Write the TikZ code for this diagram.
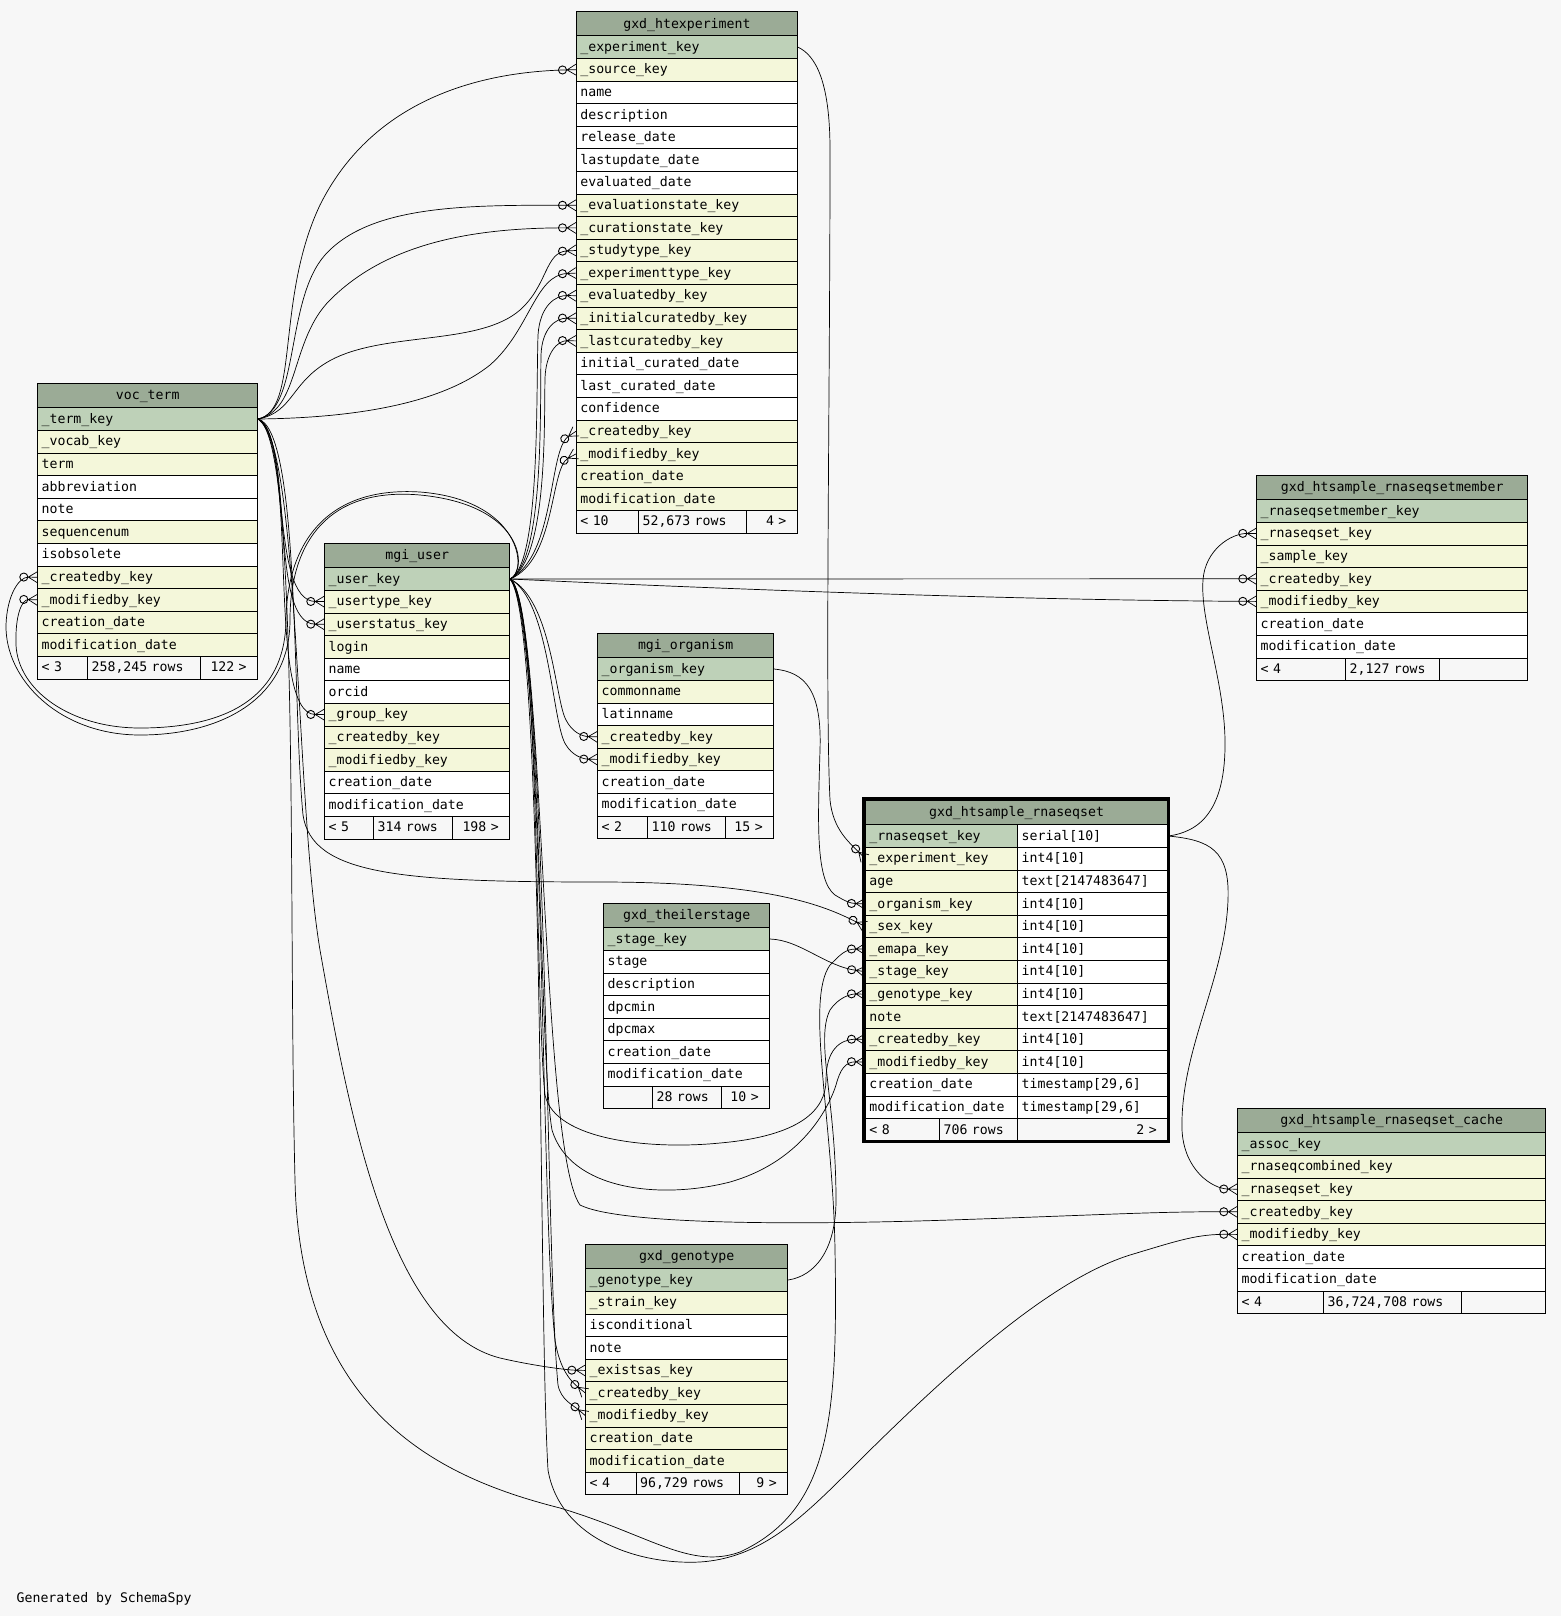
\documentclass[tikz,border=0pt]{standalone}
\usepackage{fontspec}
\setmonofont{DejaVu Sans Mono}
\usetikzlibrary{arrows.meta}

\definecolor{bgcol}{HTML}{F7F7F7}
\definecolor{hdcol}{HTML}{9BAB96}
\definecolor{pkcol}{HTML}{BED1B8}
\definecolor{ixcol}{HTML}{F4F7DA}

% Crow's foot for the many side of a key.
\pgfdeclarearrow{
  name = Crow,
  parameters = {\the\pgfarrowlength,\the\pgfarrowwidth},
  setup code = {
    \pgfarrowssettipend{0pt}
    \pgfarrowssetbackend{-\pgfarrowlength}
    \pgfarrowssetlineend{-\pgfarrowlength}
    \pgfarrowshullpoint{0pt}{.5\pgfarrowwidth}
    \pgfarrowshullpoint{0pt}{-.5\pgfarrowwidth}
    \pgfarrowshullpoint{-\pgfarrowlength}{0pt}
    \pgfarrowssavethe\pgfarrowlength
    \pgfarrowssavethe\pgfarrowwidth
  },
  drawing code = {
    \pgfpathmoveto{\pgfqpoint{0pt}{.5\pgfarrowwidth}}
    \pgfpathlineto{\pgfqpoint{-\pgfarrowlength}{0pt}}
    \pgfpathlineto{\pgfqpoint{0pt}{-.5\pgfarrowwidth}}
    \pgfpathmoveto{\pgfqpoint{-\pgfarrowlength}{0pt}}
    \pgfpathlineto{\pgfqpoint{0pt}{0pt}}
    \pgfusepathqstroke
  }
}

\begin{document}
\begin{tikzpicture}[x=1pt, y=-1pt, line width=0.8pt,
    font=\ttfamily\fontsize{13.2}{15}\selectfont,
    cell/.style={draw, anchor=north west, inner xsep=4pt, inner ysep=0pt,
        minimum height=22.6pt, text height=11pt, text depth=2.5pt, align=left},
    hcell/.style={cell, fill=hdcol, minimum height=24pt, align=center},
    fcell/.style={cell, fill=bgcol},
    rcell/.style={fcell, align=right, execute at end node={\hspace*{7pt}}},
    fk/.style={-{Circle[open, length=9pt, width=9pt, line width=0.9pt]
        Crow[length=9pt, width=11pt, line width=1.2pt]}, line width=0.7pt}]

        % Background of the whole sheet.
        \fill[bgcol] (0,0) rectangle (1561,1616);

        % The voc_term table.
        \node[hcell, text width=212pt] (vt) at (37.3,383.3) {voc\_term};
        \foreach \txt/\col [count=\i] in {\_term\_key/pkcol, \_vocab\_key/ixcol,
            term/ixcol, abbreviation/white, note/white, sequencenum/ixcol,
            isobsolete/white, \_createdby\_key/ixcol, \_modifiedby\_key/ixcol,
            creation\_date/ixcol, modification\_date/ixcol}
            \node[cell, fill=\col, text width=212pt] (vt-\i) at (37.3,{407.3+22.6*(\i-1)}) {\txt};
        \node[fcell, text width=42pt] (vt-f1) at (37.3,656) {< 3};
        \node[fcell, text width=105pt] (vt-f2) at (87.3,656) {258,245 rows};
        \node[rcell, text width=49pt] (vt-f3) at (200.3,656) {122 >};

        % The gxd_htexperiment table.
        \node[hcell, text width=213pt] (ex) at (576,11.4) {gxd\_htexperiment};
        \foreach \txt/\col [count=\i] in {\_experiment\_key/pkcol, \_source\_key/ixcol,
            name/white, description/white, release\_date/white, lastupdate\_date/white,
            evaluated\_date/white, \_evaluationstate\_key/ixcol, \_curationstate\_key/ixcol,
            \_studytype\_key/ixcol, \_experimenttype\_key/ixcol, \_evaluatedby\_key/ixcol,
            \_initialcuratedby\_key/ixcol, \_lastcuratedby\_key/ixcol,
            initial\_curated\_date/white, last\_curated\_date/white, confidence/white,
            \_createdby\_key/ixcol, \_modifiedby\_key/ixcol, creation\_date/ixcol,
            modification\_date/ixcol}
            \node[cell, fill=\col, text width=213pt] (ex-\i) at (576,{35.4+22.6*(\i-1)}) {\txt};
        \node[fcell, text width=54.2pt] (ex-f1) at (576,510) {< 10};
        \node[fcell, text width=99.4pt] (ex-f2) at (638.2,510) {52,673 rows};
        \node[rcell, text width=43.4pt] (ex-f3) at (745.6,510) {4 >};

        % The mgi_user table.
        \node[hcell, text width=177pt] (mu) at (324.3,543.3) {mgi\_user};
        \foreach \txt/\col [count=\i] in {\_user\_key/pkcol, \_usertype\_key/ixcol,
            \_userstatus\_key/ixcol, login/ixcol, name/white, orcid/white,
            \_group\_key/ixcol, \_createdby\_key/ixcol, \_modifiedby\_key/ixcol,
            creation\_date/white, modification\_date/white}
            \node[cell, fill=\col, text width=177pt] (mu-\i) at (324.3,{567.3+22.6*(\i-1)}) {\txt};
        \node[fcell, text width=41pt] (mu-f1) at (324.3,816) {< 5};
        \node[fcell, text width=71pt] (mu-f2) at (373.3,816) {314 rows};
        \node[rcell, text width=49pt] (mu-f3) at (452.3,816) {198 >};

        % The mgi_organism table.
        \node[hcell, text width=168pt] (mo) at (597.3,633.3) {mgi\_organism};
        \foreach \txt/\col [count=\i] in {\_organism\_key/pkcol, commonname/ixcol,
            latinname/white, \_createdby\_key/ixcol, \_modifiedby\_key/ixcol,
            creation\_date/white, modification\_date/white}
            \node[cell, fill=\col, text width=168pt] (mo-\i) at (597.3,{657.3+22.6*(\i-1)}) {\txt};
        \node[fcell, text width=42pt] (mo-f1) at (597.3,815.5) {< 2};
        \node[fcell, text width=70pt] (mo-f2) at (647.3,815.5) {110 rows};
        \node[rcell, text width=40pt] (mo-f3) at (725.3,815.5) {15 >};

        % The gxd_theilerstage table.
        \node[hcell, text width=158pt] (ts) at (603.3,903.3) {gxd\_theilerstage};
        \foreach \txt/\col [count=\i] in {\_stage\_key/pkcol, stage/white,
            description/white, dpcmin/white, dpcmax/white, creation\_date/white,
            modification\_date/white}
            \node[cell, fill=\col, text width=158pt] (ts-\i) at (603.3,{927.3+22.6*(\i-1)}) {\txt};
        \node[fcell, text width=41pt] (ts-f1) at (603.3,1085.5) {};
        \node[fcell, text width=61pt] (ts-f2) at (652.3,1085.5) {28 rows};
        \node[rcell, text width=40pt] (ts-f3) at (721.3,1085.5) {10 >};

        % The gxd_genotype table.
        \node[hcell, text width=194pt] (gt) at (585.3,1244.3) {gxd\_genotype};
        \foreach \txt/\col [count=\i] in {\_genotype\_key/pkcol, \_strain\_key/ixcol,
            isconditional/white, note/white, \_existsas\_key/ixcol, \_createdby\_key/ixcol,
            \_modifiedby\_key/ixcol, creation\_date/ixcol, modification\_date/ixcol}
            \node[cell, fill=\col, text width=194pt] (gt-\i) at (585.3,{1268.3+22.6*(\i-1)}) {\txt};
        \node[fcell, text width=42.4pt] (gt-f1) at (585.3,1471.7) {< 4};
        \node[fcell, text width=95.6pt] (gt-f2) at (635.7,1471.7) {96,729 rows};
        \node[rcell, text width=40pt] (gt-f3) at (739.3,1471.7) {9 >};

        % The gxd_htsample_rnaseqsetmember table.
        \node[hcell, text width=263pt] (sm) at (1256.3,475.3) {gxd\_htsample\_rnaseqsetmember};
        \foreach \txt/\col [count=\i] in {\_rnaseqsetmember\_key/pkcol, \_rnaseqset\_key/ixcol,
            \_sample\_key/ixcol, \_createdby\_key/ixcol, \_modifiedby\_key/ixcol,
            creation\_date/white, modification\_date/white}
            \node[cell, fill=\col, text width=263pt] (sm-\i) at (1256.3,{499.3+22.6*(\i-1)}) {\txt};
        \node[fcell, text width=81pt] (sm-f1) at (1256.3,657.5) {< 4};
        \node[fcell, text width=86pt] (sm-f2) at (1345.3,657.5) {2,127 rows};
        \node[fcell, text width=80pt] (sm-f3) at (1439.3,657.5) {};

        % The gxd_htsample_rnaseqset_cache table.
        \node[hcell, text width=300pt] (sc) at (1237.3,1108.3) {gxd\_htsample\_rnaseqset\_cache};
        \foreach \txt/\col [count=\i] in {\_assoc\_key/pkcol, \_rnaseqcombined\_key/ixcol,
            \_rnaseqset\_key/ixcol, \_createdby\_key/ixcol, \_modifiedby\_key/ixcol,
            creation\_date/white, modification\_date/white}
            \node[cell, fill=\col, text width=300pt] (sc-\i) at (1237.3,{1132.3+22.6*(\i-1)}) {\txt};
        \node[fcell, text width=78pt] (sc-f1) at (1237.3,1290.5) {< 4};
        \node[fcell, text width=130pt] (sc-f2) at (1323.3,1290.5) {36,724,708 rows};
        \node[fcell, text width=76pt] (sc-f3) at (1461.3,1290.5) {};

        % The gxd_htsample_rnaseqset table, with its column types.
        \node[hcell, text width=294.3pt, minimum height=24.3pt] (rs) at (865,800) {gxd\_htsample\_rnaseqset};
        \foreach \txt/\typ/\col [count=\i] in {\_rnaseqset\_key/serial[10]/pkcol,
            \_experiment\_key/int4[10]/ixcol, age/text[2147483647]/ixcol,
            \_organism\_key/int4[10]/ixcol, \_sex\_key/int4[10]/ixcol,
            \_emapa\_key/int4[10]/ixcol, \_stage\_key/int4[10]/ixcol,
            \_genotype\_key/int4[10]/ixcol, note/text[2147483647]/ixcol,
            \_createdby\_key/int4[10]/ixcol, \_modifiedby\_key/int4[10]/ixcol,
            creation\_date/{timestamp[29,6]}/white, modification\_date/{timestamp[29,6]}/white}
        {
            \node[cell, fill=\col, text width=144.3pt] (rs-\i) at (865,{824.3+22.6*(\i-1)}) {\txt};
            \node[cell, fill=white, text width=142pt] (rt-\i) at (1017.3,{824.3+22.6*(\i-1)}) {\typ};
        }
        \node[fcell, text width=66.3pt] (rs-f1) at (865,1118.1) {< 8};
        \node[fcell, text width=70pt] (rs-f2) at (939.3,1118.1) {706 rows};
        \node[rcell, text width=142pt] (rs-f3) at (1017.3,1118.1) {2 >};
        \draw[line width=3pt] (863.5,798.5) rectangle (1168.5,1141.5);

        % Keys that point at voc_term.
        \draw[fk] (vt-1.east) .. controls (300,410) and (275,300) .. (320,205)
            .. controls (370,105) and (470,72) .. (ex-2.west);
        \draw[fk] (vt-1.east) .. controls (300,410) and (285,300) .. (325,255)
            .. controls (370,205) and (466,205) .. (ex-8.west);
        \draw[fk] (vt-1.east) .. controls (300,410) and (290,340) .. (330,300)
            .. controls (380,250) and (456,227.5) .. (ex-9.west);
        \draw[fk] (vt-1.east) .. controls (295,412) and (290,380) .. (335,358)
            .. controls (390,332) and (480,345) .. (520,310)
            .. controls (548,285) and (545,252) .. (ex-10.west);
        \draw[fk] (vt-1.east) .. controls (350,418) and (440,405) .. (490,365)
            .. controls (530,330) and (535,275) .. (ex-11.west);
        \draw[fk] (vt-1.east) .. controls (290,430) and (270,601) .. (mu-2.west);
        \draw[fk] (vt-1.east) .. controls (295,440) and (268,624) .. (mu-3.west);
        \draw[fk] (vt-1.east) .. controls (300,450) and (265,714) .. (mu-7.west);
        \draw[fk] (vt-1.east) .. controls (300,430) and (292,700) .. (303,815)
            .. controls (312,875) and (400,882) .. (600,882)
            .. controls (770,882) and (825,906) .. (rs-5.west);
        \draw[fk] (vt-1.east) .. controls (300,440) and (295,800) .. (320,950)
            .. controls (350,1120) and (390,1330) .. (500,1358)
            .. controls (530,1365) and (565,1370) .. (gt-5.west);
        \draw[fk] (vt-1.east) .. controls (300,440) and (288,900) .. (295,1180)
            .. controls (300,1420) and (450,1480) .. (560,1508)
            .. controls (650,1535) and (690,1570) .. (740,1552)
            .. controls (830,1510) and (838,1420) .. (835,1250)
            .. controls (833,1120) and (805,1000) .. (830,965)
            .. controls (840,955) and (845,949) .. (rs-6.west);

        % Keys that point at mgi_user.
        \draw[fk] (mu-1.east) .. controls (528,570) and (525,505) .. (420,495)
            .. controls (330,487) and (290,540) .. (290,620)
            .. controls (290,700) and (220,735) .. (140,735)
            .. controls (60,735) and (5,680) .. (6,625)
            .. controls (7,595) and (19,577) .. (vt-8.west);
        \draw[fk] (mu-1.east) .. controls (528,572) and (522,500) .. (420,492)
            .. controls (325,486) and (287,545) .. (286,620)
            .. controls (285,705) and (215,728) .. (140,728)
            .. controls (70,728) and (18,690) .. (16,645)
            .. controls (15,615) and (22,599.4) .. (vt-9.west);
        \draw[fk] (mu-1.east) .. controls (540,565) and (536,400) .. (538,335)
            .. controls (540,305) and (556,295.3) .. (ex-12.west);
        \draw[fk] (mu-1.east) .. controls (544,562) and (540,410) .. (541,355)
            .. controls (542,328) and (556,318) .. (ex-13.west);
        \draw[fk] (mu-1.east) .. controls (548,560) and (544,420) .. (545,378)
            .. controls (546,352) and (558,340.5) .. (ex-14.west);
        \draw[fk] (mu-1.east) .. controls (556,555) and (548,450) .. (ex-18.west);
        \draw[fk] (mu-1.east) .. controls (556,560) and (550,468) .. (ex-19.west);
        \draw[fk] (mu-1.east) .. controls (552,600) and (555,700) .. (566,720)
            .. controls (572,732) and (582,736.4) .. (mo-4.west);
        \draw[fk] (mu-1.east) .. controls (550,600) and (552,725) .. (566,745)
            .. controls (572,755) and (582,759) .. (mo-5.west);
        \draw[fk] (mu-1.east) -- (sm-4.west);
        \draw[fk] (mu-1.east) .. controls (700,588) and (1000,600) .. (sm-5.west);
        \draw[fk] (mu-1.east) .. controls (540,600) and (535,1000) .. (545,1095)
            .. controls (555,1140) and (650,1150) .. (720,1143)
            .. controls (800,1136) and (826,1110) .. (826,1080)
            .. controls (826,1050) and (840,1039) .. (rs-10.west);
        \draw[fk] (mu-1.east) .. controls (542,600) and (538,1050) .. (552,1130)
            .. controls (570,1190) and (660,1200) .. (730,1182)
            .. controls (800,1162) and (828,1110) .. (836,1085)
            .. controls (840,1070) and (845,1061.6) .. (rs-11.west);
        \draw[fk] (mu-1.east) .. controls (545,600) and (540,1150) .. (580,1205)
            .. controls (620,1225) and (800,1225) .. (950,1220)
            .. controls (1100,1215) and (1157,1211.4) .. (sc-4.west);
        \draw[fk] (mu-1.east) .. controls (545,620) and (538,1300) .. (548,1470)
            .. controls (560,1540) and (640,1565) .. (700,1562)
            .. controls (760,1558) and (800,1520) .. (850,1470)
            .. controls (950,1370) and (1050,1280) .. (1130,1255)
            .. controls (1180,1240) and (1197,1234) .. (sc-5.west);
        \draw[fk] (mu-1.east) .. controls (545,620) and (540,1200) .. (555,1340)
            .. controls (560,1372) and (573,1383) .. (gt-6.west);
        \draw[fk] (mu-1.east) .. controls (548,620) and (545,1250) .. (558,1385)
            .. controls (561,1400) and (573,1405) .. (gt-7.west);

        % Keys that point at the other tables.
        \draw[fk] (ex-1.east) .. controls (815,55) and (830,80) .. (830,150)
            .. controls (830,400) and (825,700) .. (830,800)
            .. controls (833,830) and (850,843) .. (rs-2.west);
        \draw[fk] (mo-1.east) .. controls (805,672) and (822,690) .. (820,750)
            .. controls (818,820) and (815,880) .. (835,895)
            .. controls (845,901) and (850,903.4) .. (rs-4.west);
        \draw[fk] (ts-1.east) .. controls (800,940) and (825,966) .. (rs-7.west);
        \draw[fk] (gt-1.east) .. controls (815,1276) and (836,1250) .. (836,1200)
            .. controls (836,1100) and (815,1040) .. (830,1010)
            .. controls (838,998) and (850,993.8) .. (rs-8.west);
        \draw[fk] (rt-1.east) .. controls (1200,832) and (1226,810) .. (1225,740)
            .. controls (1224,680) and (1200,620) .. (1203,580)
            .. controls (1205,550) and (1231,533.2) .. (sm-2.west);
        \draw[fk] (rt-1.east) .. controls (1210,840) and (1230,850) .. (1228,900)
            .. controls (1225,980) and (1180,1050) .. (1182,1130)
            .. controls (1184,1170) and (1212,1188.8) .. (sc-3.west);

        % Label the sheet.
        \node[anchor=base west, inner sep=0pt] (gen) at (16.3,1602.3) {Generated by SchemaSpy};
    \end{tikzpicture}
\end{document}
